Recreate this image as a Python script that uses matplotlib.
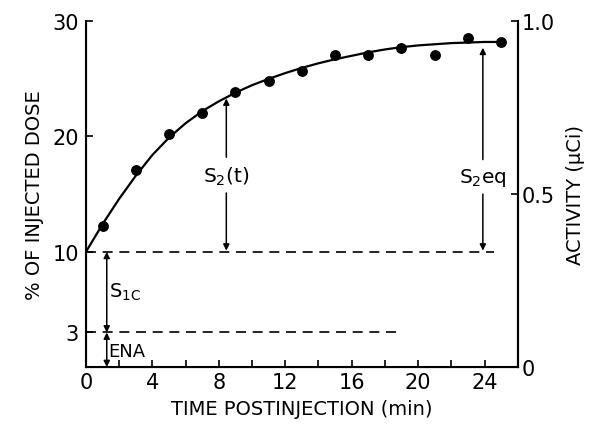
import matplotlib
matplotlib.use("Agg")
import matplotlib.pyplot as plt
from matplotlib.ticker import MultipleLocator

plt.rcParams['font.family'] = ['DejaVu Sans']
plt.rcParams['mathtext.default'] = 'regular'

# measured points (% of injected dose)
t_pts = [1, 3, 5, 7, 9, 11, 13, 15, 17, 19, 21, 23, 25]
dose_pts = [12.2, 17.1, 20.2, 22.0, 23.85, 24.8, 25.7, 27.1, 27.1, 27.7, 27.1, 28.5, 28.2]

# fitted curve
t_fit = [0, 1, 2, 3, 4, 5, 6, 7, 8, 9, 10, 11, 12, 13, 14, 15, 16, 17, 18, 19, 20, 21, 22, 23, 24, 25]
dose_fit = [10.0, 12.4, 14.6, 16.6, 18.4, 19.9, 21.15, 22.2, 23.05, 23.8, 24.45, 25.0, 25.5, 25.95,
            26.35, 26.7, 27.0, 27.3, 27.55, 27.75, 27.9, 28.0, 28.1, 28.15, 28.2, 28.2]

left_ticks = [3, 10, 20, 30]
right_ticks = [0, 0.5, 1.0]
right_labels = ["0", "0.5", "1.0"]

fig = plt.figure(figsize=(5.89, 4.27), dpi=100)
ax = fig.add_axes([0.146, 0.138, 0.733, 0.810])

ax.plot(t_fit, dose_fit, color='k', lw=1.6, solid_joinstyle='round')
ax.plot(t_pts, dose_pts, 'o', color='k', ms=6.8)

# baselines
ax.plot([0, 24.6], [10, 10], color='k', lw=1.2, ls=(0, (6, 4)))
ax.plot([0, 19], [3, 3], color='k', lw=1.2, ls=(0, (6, 4)))

arrow = dict(arrowstyle='-|>', color='k', lw=1.1, mutation_scale=9, shrinkA=0, shrinkB=0)
darrow = dict(arrowstyle='<|-|>', color='k', lw=1.1, mutation_scale=9, shrinkA=0, shrinkB=0)

# S2(t)
ax.annotate('', xy=(8.45, 23.3), xytext=(8.45, 18.2), arrowprops=arrow)
ax.annotate('', xy=(8.45, 10.1), xytext=(8.45, 15.1), arrowprops=arrow)
ax.text(8.45, 16.6, r'S$_2$(t)', ha='center', va='center', fontsize=14.5)

# S2eq
ax.annotate('', xy=(23.9, 27.7), xytext=(23.9, 18.0), arrowprops=arrow)
ax.annotate('', xy=(23.9, 10.1), xytext=(23.9, 15.0), arrowprops=arrow)
ax.text(23.9, 16.5, r'S$_2$eq', ha='center', va='center', fontsize=14.5)

# S1c and ENA
ax.annotate('', xy=(1.25, 3), xytext=(1.25, 10), arrowprops=darrow)
ax.annotate('', xy=(1.25, 0), xytext=(1.25, 3), arrowprops=darrow)
ax.text(1.4, 6.6, r'S$_{1C}$', ha='left', va='center', fontsize=14)
ax.text(1.35, 1.4, 'ENA', ha='left', va='center', fontsize=13)

ax.set_xlim(0, 26)
ax.set_ylim(0, 30)
ax.set_yticks(left_ticks)
ax.set_xticks([0, 4, 8, 12, 16, 20, 24])
ax.xaxis.set_minor_locator(MultipleLocator(2))
ax.tick_params(axis='both', which='both', direction='in', length=5, width=1.2, labelsize=15)
ax.tick_params(axis='y', pad=5)
ax.spines['top'].set_visible(False)
for s in ['left', 'bottom', 'right']:
    ax.spines[s].set_linewidth(1.5)

ax.set_xlabel('TIME POSTINJECTION (min)', fontsize=14, labelpad=5)
ax.set_ylabel('% OF INJECTED DOSE', fontsize=14, labelpad=6)

ax2 = ax.twinx()
ax2.set_ylim(0, 1.0)
ax2.set_yticks(right_ticks)
ax2.set_yticklabels(right_labels)
ax2.tick_params(axis='y', direction='in', length=5, width=1.2, labelsize=15, pad=3)
ax2.spines['top'].set_visible(False)
ax2.spines['right'].set_linewidth(1.5)
ax2.set_ylabel('ACTIVITY (\u00b5Ci)', fontsize=14, labelpad=8)

fig.savefig('out.png', dpi=100)
